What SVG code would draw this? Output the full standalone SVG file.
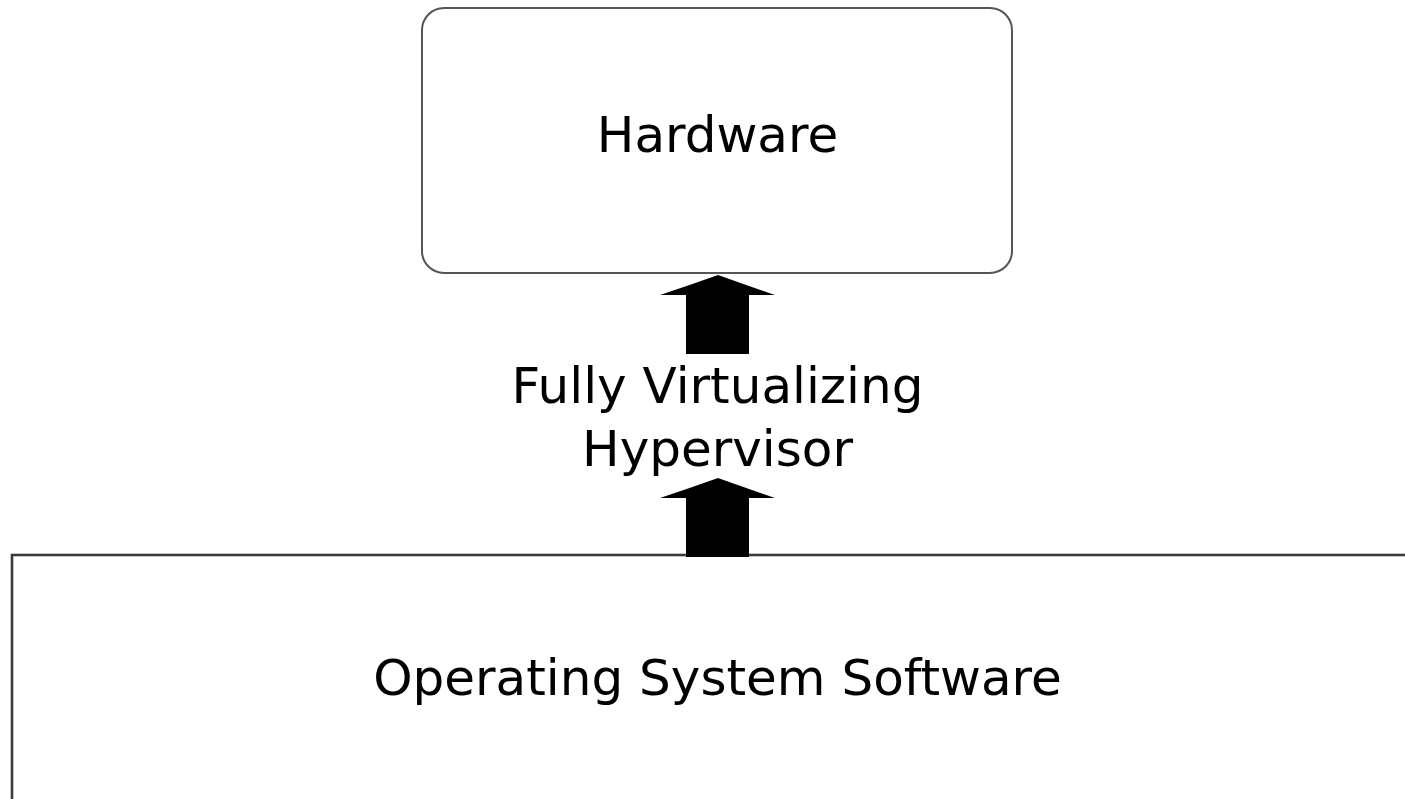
<svg xmlns="http://www.w3.org/2000/svg" width="1405" height="799" viewBox="0 0 1405 799">
  <style>
    .box { fill: #ffffff; stroke: #555555; stroke-width: 2; }
    .box-wide { fill: #ffffff; stroke: #3a3a3a; stroke-width: 2.6; }
    .label { font-family: "DejaVu Sans", Verdana, sans-serif; font-size: 50px; fill: #000000; text-anchor: middle; }
    .arrow { fill: #000000; stroke: none; }
  </style>
  <rect width="1405" height="799" fill="#ffffff"/>

  <g id="hardware">
    <rect class="box" x="422" y="8" width="590" height="265" rx="22" ry="22"/>
    <text class="label" x="717.5" y="152">Hardware</text>
  </g>

  <g id="os-software">
    <rect class="box-wide" x="12" y="555" width="1420" height="280"/>
    <text class="label" x="717.5" y="695">Operating System Software</text>
  </g>

  <g id="hypervisor">
    <text class="label" x="717.5" y="403">Fully Virtualizing</text>
    <text class="label" x="717.5" y="466">Hypervisor</text>
  </g>

  <g id="connectors">
    <path class="arrow" d="M718,275 Q690,285 660,295 L686,295 L686,354 L749,354 L749,295 L775,295 Q746,285 718,275 Z"/>
    <path class="arrow" d="M718,478 Q690,488 660,498 L686,498 L686,557 L749,557 L749,498 L775,498 Q746,488 718,478 Z"/>
  </g>
</svg>
